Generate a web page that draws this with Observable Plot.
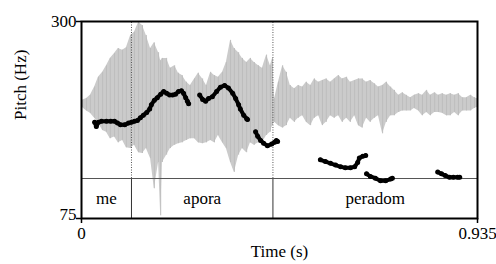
<!DOCTYPE html>
<html><head><meta charset="utf-8">
<script src="https://cdn.jsdelivr.net/npm/d3@7"></script>
<script src="https://cdn.jsdelivr.net/npm/@observablehq/plot@0.6"></script>
<style>
body{margin:0;background:#fff}
svg, svg text { font-family: "Liberation Serif", "Times New Roman", serif !important; }
</style>
</head><body><div id="chart"></div>
<script>
// ---- Pitch contour (time in s, pitch in Hz), one pair of arrays per voiced stretch
const seg1T  = [0.031,0.035,0.040,0.047,0.059,0.069,0.078,0.085,0.092,0.102,0.111,0.118,0.125,0.132,0.139,0.146,0.154,0.161,0.165,0.172,0.179,0.187,0.194,0.201,0.208,0.215,0.222,0.229,0.236,0.241,0.246,0.250,0.253];
const seg1Hz = [185,180,185,186,186,186,186,184,182,182,184,185,186,187,190,193,196,200,205,210,213,217,220,218,216,216,217,220,221,218,213,209,206];
const seg2T  = [0.279,0.286,0.293,0.300,0.309,0.319,0.328,0.338,0.347,0.357,0.364,0.371,0.375,0.383,0.390,0.392];
const seg2Hz = [216,211,209,212,214,220,225,227,224,218,212,205,200,193,189,188];
const seg3T  = [0.411,0.416,0.423,0.430,0.439,0.449,0.456,0.460,0.463];
const seg3Hz = [174,169,164,161,158,160,162,164,163];
const seg4T  = [0.564,0.576,0.588,0.600,0.612,0.623,0.635,0.645,0.652,0.656,0.664,0.671];
const seg4Hz = [142,140,138,136,134,133,133,134,139,144,146,147];
const seg5T  = [0.673,0.682,0.694,0.706,0.718,0.730,0.734];
const seg5Hz = [126,123,121,118,118,120,121];
const seg6T  = [0.841,0.850,0.859,0.869,0.878,0.888,0.893];
const seg6Hz = [128,126,124,122,122,122,122];

// ---- Text grid tier
const boundaries = [0.118, 0.452];
const intervalLabels = ["me", "apora", "peradom"];

// ---- Axes
const xTicks = [0, 0.935];
const yTicks = [75, 300];
const xLabel = "Time (s)";
const yLabel = "Pitch (Hz)";

// ---- Waveform envelope (relative amplitude)
const waveT = [0.002,0.012,0.021,0.031,0.040,0.050,0.059,0.068,0.078,0.087,0.097,0.106,0.116,0.125,0.135,0.144,0.153,0.163,0.172,0.182,0.187,0.191,0.201,0.210,0.220,0.229,0.238,0.248,0.257,0.267,0.276,0.286,0.295,0.305,0.314,0.323,0.333,0.342,0.352,0.361,0.371,0.380,0.390,0.399,0.408,0.418,0.427,0.437,0.446,0.451,0.456,0.465,0.475,0.484,0.493,0.503,0.512,0.522,0.531,0.541,0.550,0.560,0.569,0.578,0.588,0.597,0.607,0.616,0.626,0.635,0.645,0.654,0.663,0.673,0.682,0.692,0.701,0.711,0.720,0.730,0.739,0.749,0.758,0.767,0.777,0.786,0.796,0.805,0.815,0.824,0.834,0.843,0.852,0.862,0.871,0.881,0.890,0.900,0.909,0.919,0.928,0.933];
const waveTop = [0.04,0.06,0.10,0.20,0.32,0.38,0.46,0.55,0.61,0.67,0.65,0.68,0.83,0.87,0.99,0.95,0.83,0.67,0.74,0.62,0.52,0.55,0.55,0.43,0.46,0.37,0.34,0.26,0.22,0.30,0.37,0.30,0.22,0.38,0.34,0.32,0.38,0.50,0.77,0.67,0.62,0.55,0.50,0.55,0.50,0.46,0.43,0.59,0.46,0.55,0.06,0.26,0.46,0.38,0.22,0.18,0.22,0.20,0.26,0.22,0.30,0.26,0.28,0.30,0.26,0.30,0.34,0.30,0.32,0.26,0.28,0.30,0.30,0.26,0.28,0.24,0.20,0.22,0.26,0.20,0.16,0.10,0.13,0.10,0.07,0.10,0.12,0.10,0.16,0.10,0.13,0.10,0.12,0.10,0.12,0.10,0.12,0.07,0.07,0.10,0.07,0.06];
const waveBottom = [-0.05,-0.09,-0.12,-0.18,-0.24,-0.33,-0.35,-0.43,-0.41,-0.48,-0.45,-0.54,-0.55,-0.51,-0.60,-0.61,-0.55,-0.67,-1.04,-0.72,-1.37,-0.72,-0.63,-0.55,-0.51,-0.49,-0.48,-0.45,-0.43,-0.43,-0.48,-0.49,-0.48,-0.45,-0.48,-0.39,-0.48,-0.55,-0.72,-0.84,-0.63,-0.55,-0.60,-0.48,-0.51,-0.48,-0.48,-0.39,-0.35,-0.27,-0.23,-0.27,-0.30,-0.27,-0.18,-0.23,-0.18,-0.15,-0.23,-0.27,-0.18,-0.15,-0.27,-0.23,-0.15,-0.18,-0.15,-0.23,-0.18,-0.23,-0.15,-0.27,-0.30,-0.18,-0.23,-0.18,-0.15,-0.37,-0.23,-0.15,-0.15,-0.11,-0.09,-0.09,-0.09,-0.06,-0.09,-0.15,-0.11,-0.15,-0.11,-0.11,-0.12,-0.15,-0.15,-0.11,-0.15,-0.09,-0.09,-0.09,-0.06,-0.05];

// ---- layout of the drawing inside the frame (fractions of the frame height)
const xDomain = [0, 0.935];
const yDomain = [75, 300];
const ySpan = yDomain[1] - yDomain[0];
const tierTop = yDomain[0] + ySpan * (40 / 197);
const tierMid = yDomain[0] + ySpan * (20 / 197);
const waveCenter = yDomain[0] + ySpan * (115 / 197);
const waveScale = ySpan * (82 / 197);
const FONT = "'Liberation Serif','Times New Roman',serif";
const FS = 17;

const segs = [[seg1T,seg1Hz],[seg2T,seg2Hz],[seg3T,seg3Hz],[seg4T,seg4Hz],[seg5T,seg5Hz],[seg6T,seg6Hz]];
const pitch = segs.flatMap(([ts, hs], i) => ts.map((t, j) => ({t, hz: hs[j], seg: i})));
const wave = waveT.map((t, i) => ({t, top: waveTop[i], bot: waveBottom[i]}));
const edges = [xDomain[0], ...boundaries, xDomain[1]];
const intervals = intervalLabels.map((text, i) => ({text, mid: (edges[i] + edges[i + 1]) / 2}));
const wy = a => waveCenter + a * waveScale;

const chart = Plot.plot({
  width: 496, height: 264,
  marginLeft: 81, marginRight: 19, marginTop: 21, marginBottom: 46,
  x: {domain: xDomain},
  y: {domain: yDomain},
  style: {fontFamily: FONT, fontSize: FS + "px", color: "black", background: "white"},
  marks: [
    Plot.areaY(wave, {x: "t", y1: d => wy(d.bot), y2: d => wy(d.top), fill: "#cbcbcb"}),
    Plot.ruleX(wave, {x: "t", y1: d => wy(d.bot), y2: d => wy(d.top), stroke: "#bdbdbd", strokeWidth: 1}),
    Plot.ruleX(boundaries, {y1: tierTop, y2: yDomain[1], stroke: "#555", strokeDasharray: "1,1.5", strokeWidth: 1}),
    Plot.ruleX(boundaries, {y1: yDomain[0], y2: tierTop, stroke: "#333", strokeWidth: 1}),
    Plot.ruleY([tierTop], {stroke: "#555", strokeWidth: 1}),
    Plot.line(pitch, {x: "t", y: "hz", z: "seg", stroke: "black", strokeWidth: 4, strokeLinecap: "round", strokeLinejoin: "round"}),
    Plot.dot(pitch, {x: "t", y: "hz", r: 2.5, fill: "black"}),
    Plot.text(intervals, {x: "mid", y: tierMid, text: "text", fontSize: FS, fontFamily: FONT}),
    Plot.frame({stroke: "black", strokeWidth: 2}),
    Plot.axisY({ticks: yTicks, tickSize: 5, strokeWidth: 1.5, tickFormat: () => "", label: null}),
    Plot.text([yTicks[1]], {y: d => d, frameAnchor: "left", dx: -5, textAnchor: "end", text: d => String(d), fontSize: FS, fontFamily: FONT}),
    Plot.text([yTicks[0]], {y: d => d, frameAnchor: "left", dx: -5, dy: -4, textAnchor: "end", text: d => String(d), fontSize: FS, fontFamily: FONT}),
    Plot.axisX({ticks: xTicks, tickSize: 5, tickPadding: 3, strokeWidth: 1.5, tickFormat: d => String(d), label: null, fontSize: FS, fontFamily: FONT}),
    Plot.text([xLabel], {frameAnchor: "bottom", dy: 38, fontSize: FS, fontFamily: FONT}),
    Plot.text([yLabel], {frameAnchor: "left", dx: -61, rotate: -90, fontSize: FS, fontFamily: FONT})
  ]
});
document.getElementById("chart").append(chart);
</script>
</body></html>
